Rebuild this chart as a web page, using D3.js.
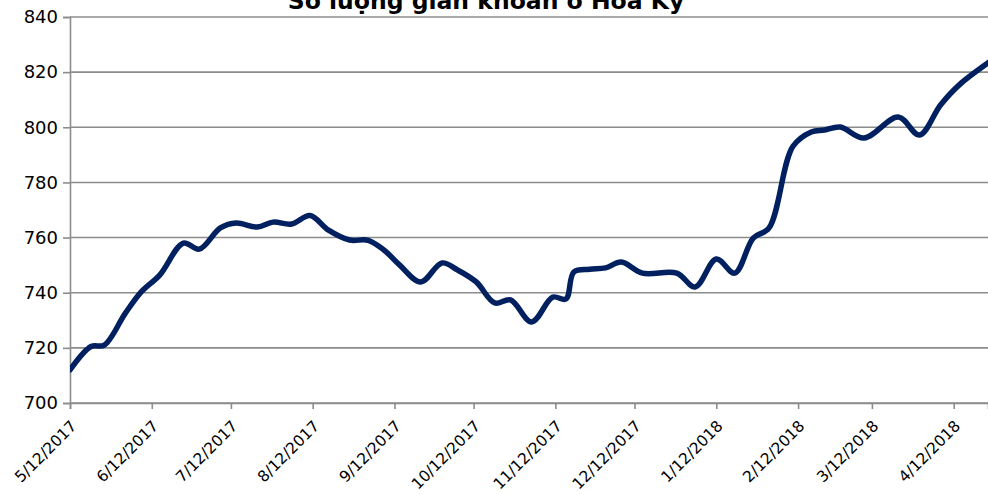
<!DOCTYPE html>
<html><head><meta charset="utf-8">
<script src="https://cdn.jsdelivr.net/npm/d3@7"></script>
<style>html,body{margin:0;padding:0;background:#fff;overflow:hidden}</style>
</head><body>
<svg id="chart" width="988" height="495"></svg>
<script>
const title = "Số lượng giàn khoan ở Hoa Kỳ";
const dates = ["2017-05-12","2017-05-20","2017-05-25","2017-06-02","2017-06-08","2017-06-15","2017-06-24","2017-06-30",
"2017-07-08","2017-07-14","2017-07-22","2017-07-28","2017-08-04","2017-08-11","2017-08-18","2017-08-26",
"2017-09-02","2017-09-08","2017-09-14","2017-09-22","2017-09-30","2017-10-06","2017-10-13","2017-10-20",
"2017-10-26","2017-11-03","2017-11-11","2017-11-16","2017-11-19","2017-11-25","2017-12-01","2017-12-07",
"2017-12-15","2017-12-28","2018-01-04","2018-01-12","2018-01-19","2018-01-26","2018-02-01","2018-02-10",
"2018-02-17","2018-02-22","2018-02-28","2018-03-09","2018-03-22","2018-03-30","2018-04-07","2018-04-14","2018-04-26"];
const rigs = [712,720.5,721,732.6,740.3,746.4,758,755.8,
763.5,765.3,763.8,765.6,764.9,768,762.7,759.1,
759,755.5,750,743.9,750.8,748.2,743.9,736.3,
737.4,729.4,738.4,737.7,747.5,748.5,749,751.1,
747.1,747.1,742.1,752.2,747.1,759.8,763.5,793,
798.3,799,800.1,796.1,803.7,797.2,808.1,815.3,824];
const tickDates = ["2017-05-12","2017-06-12","2017-07-12","2017-08-12","2017-09-12","2017-10-12","2017-11-12",
"2017-12-12","2018-01-12","2018-02-12","2018-03-12","2018-04-12"];
const yTicks = [700,720,740,760,780,800,820,840];

const parse = d3.timeParse("%Y-%m-%d");
const fmt = d3.timeFormat("%-m/%-d/%Y");
const data = dates.map((d,i)=>({date:parse(d), v:rigs[i]}));

const svg = d3.select("#chart");
const L=70, R=988, T=17, B=403;
const x = d3.scaleTime().domain([parse("2017-05-12"), parse("2018-04-25")]).range([L, R]);
const y = d3.scaleLinear().domain([700,840]).range([B, T]);

const grid = "#8c8c8c";
svg.append("g").selectAll("line").data(yTicks).join("line")
  .attr("x1",L).attr("x2",R).attr("y1",d=>y(d)).attr("y2",d=>y(d))
  .attr("stroke",grid).attr("stroke-width",1.6);

const yAxis = svg.append("g").attr("transform",`translate(${L},0)`)
  .call(d3.axisLeft(y).tickValues(yTicks).tickSize(7).tickPadding(5));
yAxis.select(".domain").attr("stroke",grid).attr("stroke-width",1.6);
yAxis.selectAll(".tick line").attr("stroke",grid).attr("stroke-width",1.6);
yAxis.selectAll("text").attr("font-family","DejaVu Sans").attr("font-size",18).attr("fill","#000");

const xAxis = svg.append("g").attr("transform",`translate(0,${B})`)
  .call(d3.axisBottom(x).tickValues(tickDates.map(parse)).tickSize(6).tickFormat(fmt));
xAxis.select(".domain").attr("stroke",grid).attr("stroke-width",1.6);
xAxis.selectAll(".tick line").attr("stroke",grid).attr("stroke-width",1.6);
xAxis.selectAll("text").attr("font-family","DejaVu Sans").attr("font-size",15.5).attr("fill","#000")
  .attr("text-anchor","end").attr("dy",0).attr("y",0)
  .attr("transform","translate(7,24) rotate(-45)");

svg.append("clipPath").attr("id","clip").append("rect").attr("x",L).attr("y",0).attr("width",R-L).attr("height",B+5);

const line = d3.line().x(d=>x(d.date)).y(d=>y(d.v)).curve(d3.curveCatmullRom.alpha(0.5));
svg.append("path").datum(data).attr("d",line).attr("clip-path","url(#clip)")
  .attr("fill","none").attr("stroke","#002060").attr("stroke-width",5.5)
  .attr("stroke-linejoin","round").attr("stroke-linecap","round");

svg.append("text").attr("x",486).attr("y",9).attr("text-anchor","middle")
  .attr("font-family","DejaVu Sans").attr("font-weight","bold").attr("font-size",23.5).text(title);
</script>
</body></html>
